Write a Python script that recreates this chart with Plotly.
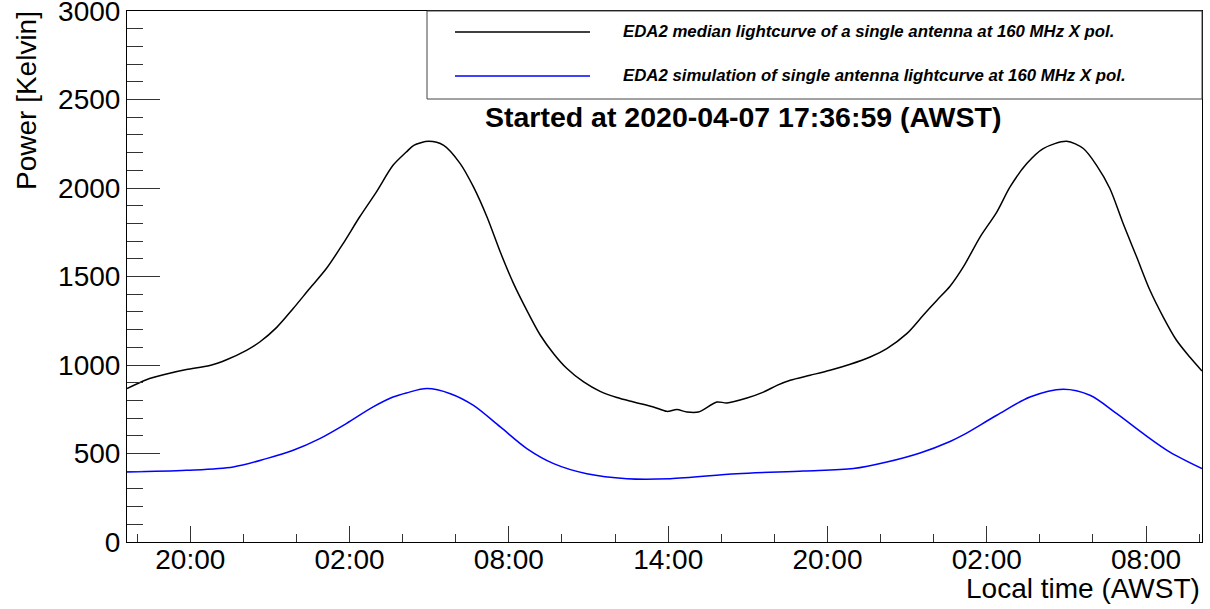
import plotly.graph_objects as go
import pandas as pd

# ---- data ----
start_time = "2020-04-07 17:36:59"
end_hours = 40.49

black_hours = [0.0, 0.73, 1.49, 2.24, 3.12, 3.75, 4.50, 5.00, 5.63, 6.26, 6.88, 7.51, 8.14, 8.76,
               9.39, 10.02, 10.52, 10.80, 11.36, 11.93, 12.55, 13.05, 13.56, 14.06, 14.56, 15.06,
               15.57, 16.07, 16.57, 17.20, 17.82, 18.45, 19.08, 19.83, 20.33, 20.71, 21.09, 21.52,
               22.22, 22.59, 23.35, 23.97, 24.48, 24.98, 25.73, 26.48, 27.24, 27.99, 28.62, 29.37,
               29.99, 30.50, 31.00, 31.50, 32.13, 32.76, 33.26, 33.89, 34.51, 35.39, 36.02, 36.52,
               37.02, 37.52, 38.03, 38.53, 39.03, 39.53, 40.03, 40.49]
black_power = [867, 917, 949, 974, 997, 1030, 1083, 1130, 1211, 1319, 1432, 1545, 1686, 1836,
               1977, 2128, 2203, 2241, 2264, 2241, 2138, 2006, 1836, 1638, 1460, 1309,
               1168, 1064, 980, 904, 851, 816, 791, 763, 738, 748, 734, 734,
               791, 786, 814, 847, 885, 914, 942, 970, 1004, 1045, 1093, 1177,
               1281, 1365, 1445, 1554, 1723, 1864, 2006, 2138, 2223, 2264, 2223, 2128,
               1997, 1799, 1610, 1422, 1271, 1140, 1045, 966]

sim_hours = [0.0, 2.24, 4.00, 5.25, 6.26, 7.26, 8.26, 9.27, 10.02, 10.52, 11.30, 12.18, 13.05,
             14.06, 15.06, 16.07, 17.32, 18.83, 20.46, 22.97, 25.48, 27.36, 28.62, 29.87, 31.00,
             31.50, 32.76, 34.01, 35.26, 36.27, 37.28, 38.28, 39.28, 40.49]
sim_power = [395, 405, 424, 471, 518, 584, 669, 763, 819, 842, 867, 838, 772,
             650, 528, 443, 386, 358, 358, 386, 401, 415, 452, 503, 568,
             605, 716, 819, 863, 829, 725, 612, 508, 415]

label_black = "EDA2 median lightcurve of a single antenna at 160 MHz X pol."
label_sim = "EDA2 simulation of single antenna lightcurve at 160 MHz X pol."
title_text = "Started at 2020-04-07 17:36:59 (AWST)"
x_title = "Local time (AWST)"
y_title = "Power [Kelvin]"

# ---- build ----
t0 = pd.Timestamp(start_time)
bx = [t0 + pd.Timedelta(hours=h) for h in black_hours]
sx = [t0 + pd.Timedelta(hours=h) for h in sim_hours]
t_end = t0 + pd.Timedelta(hours=end_hours)

W, H = 1210, 609
ML, MR, MT, MB = 127, 8, 11, 67
PW, PH = W - ML - MR, H - MT - MB


def px(xp):
    return (xp - ML) / PW


def py(yp):
    return (H - MB - yp) / PH


FONT = "Liberation Sans, Arial, Helvetica, sans-serif"

fig = go.Figure()
fig.add_trace(go.Scatter(x=bx, y=black_power, mode="lines", name=label_black,
                         line=dict(color="black", width=1.5, shape="spline", smoothing=0.8)))
fig.add_trace(go.Scatter(x=sx, y=sim_power, mode="lines", name=label_sim,
                         line=dict(color="#0000ff", width=1.5, shape="spline", smoothing=0.9)))

tickc = "#333333"
fig.update_layout(
    width=W, height=H, autosize=False,
    margin=dict(l=ML, r=MR, t=MT, b=MB, autoexpand=False),
    paper_bgcolor="white", plot_bgcolor="white",
    showlegend=False,
    font=dict(family=FONT, color="black"),
    xaxis=dict(
        type="date", range=[t0, t_end], automargin=False,
        tickformat="%H:%M", tick0="2020-04-07 20:00:00", dtick=6 * 3600 * 1000,
        ticks="inside", ticklen=16, tickwidth=1, tickcolor=tickc,
        minor=dict(dtick=2 * 3600 * 1000, tick0="2020-04-07 20:00:00", ticks="inside",
                   ticklen=8, tickwidth=1, tickcolor=tickc, showgrid=False),
        showline=True, linecolor="black", linewidth=1, mirror=True,
        showgrid=False, zeroline=False, ticklabelstandoff=-8,
        tickfont=dict(family=FONT, size=28, color="black"),
    ),
    yaxis=dict(
        range=[0, 3000], tick0=0, dtick=500, automargin=False,
        ticks="inside", ticklen=33, tickwidth=1, tickcolor=tickc,
        minor=dict(dtick=100, ticks="inside", ticklen=16, tickwidth=1,
                   tickcolor=tickc, showgrid=False),
        showline=True, linecolor="black", linewidth=1, mirror=True,
        showgrid=False, zeroline=False, ticklabeloverflow="allow",
        tickfont=dict(family=FONT, size=28, color="black"),
    ),
)

# legend box (ROOT-style)
fig.add_shape(type="rect", xref="paper", yref="paper",
              x0=px(427), x1=1, y0=py(99), y1=1,
              line=dict(color="#444444", width=1), fillcolor="white", layer="above")
fig.add_shape(type="line", xref="paper", yref="paper",
              x0=px(455), x1=px(590), y0=py(32), y1=py(32),
              line=dict(color="black", width=1.5))
fig.add_shape(type="line", xref="paper", yref="paper",
              x0=px(455), x1=px(590), y0=py(76), y1=py(76),
              line=dict(color="#0000ff", width=1.5))
fig.add_annotation(xref="paper", yref="paper", x=px(621), y=py(32),
                   xanchor="left", yanchor="middle", showarrow=False,
                   text="<b><i>" + label_black + "</i></b>",
                   font=dict(family=FONT, size=16.8, color="black"))
fig.add_annotation(xref="paper", yref="paper", x=px(621), y=py(76),
                   xanchor="left", yanchor="middle", showarrow=False,
                   text="<b><i>" + label_sim + "</i></b>",
                   font=dict(family=FONT, size=16.8, color="black"))

# title
fig.add_annotation(xref="paper", yref="paper", x=px(743), y=py(117),
                   xanchor="center", yanchor="middle", showarrow=False,
                   text="<b>" + title_text + "</b>",
                   font=dict(family=FONT, size=28.5, color="black"))

# axis titles (ROOT-style right/top aligned)
fig.add_annotation(xref="paper", yref="paper", x=1, y=py(588),
                   xanchor="right", yanchor="middle", showarrow=False,
                   text=x_title, font=dict(family=FONT, size=28, color="black"))
fig.add_annotation(xref="paper", yref="paper", x=px(26), y=py(101),
                   xanchor="center", yanchor="middle", showarrow=False, textangle=-90,
                   text=y_title, font=dict(family=FONT, size=28, color="black"))

fig.write_html("out.html")
